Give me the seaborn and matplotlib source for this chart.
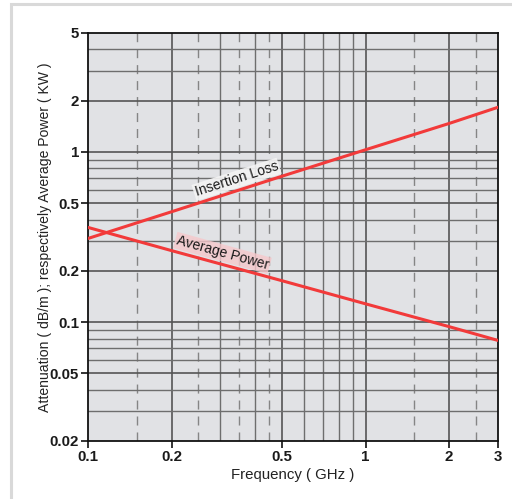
import numpy as np
import pandas as pd
import seaborn as sns
import matplotlib.pyplot as plt
from matplotlib.patches import Rectangle
from matplotlib.ticker import FixedLocator, FixedFormatter, NullLocator

# values (log-log straight lines)
freq_ghz = [0.1, 0.2, 0.5, 1.0, 2.0, 3.0]
insertion_loss = [0.31, 0.445, 0.72, 1.03, 1.47, 1.83]
average_power = [0.36, 0.263, 0.175, 0.128, 0.094, 0.078]

x_ticks = [0.1, 0.2, 0.5, 1, 2, 3]
x_tick_labels = ['0.1', '0.2', '0.5', '1', '2', '3']
y_ticks = [0.02, 0.05, 0.1, 0.2, 0.5, 1, 2, 5]
y_tick_labels = ['0.02', '0.05', '0.1', '0.2', '0.5', '1', '2', '5']

# grid layout of the chart paper
v_major = [0.2, 0.5, 1, 2]
v_minor = [0.3, 0.4, 0.6, 0.7, 0.8, 0.9]
v_dashed = [0.15, 0.25, 0.35, 0.45, 1.5, 2.5]
h_major = [0.05, 0.1, 0.2, 0.5, 1, 2]
h_minor = [0.03, 0.04, 0.06, 0.07, 0.08, 0.09, 0.3, 0.4, 0.6, 0.7, 0.8, 0.9, 3, 4]

df = pd.DataFrame({
    'freq': freq_ghz * 2,
    'value': insertion_loss + average_power,
    'curve': ['Insertion Loss'] * len(freq_ghz) + ['Average Power'] * len(freq_ghz),
})

sns.set_style('white', {'axes.facecolor': '#e1e2e5', 'axes.edgecolor': '#111111',
                        'xtick.bottom': True, 'ytick.left': True})
plt.rcParams['font.family'] = ['Liberation Sans', 'DejaVu Sans']

fig = plt.figure(figsize=(5.12, 4.99), dpi=100)
ax = fig.add_axes([88 / 512, 1 - 441 / 499, 410 / 512, 408 / 499])

# card frame around the figure
fig.patches.append(Rectangle((11 / 512, -0.05), 1.2, 1 - 4 / 499 + 0.05, transform=fig.transFigure,
                             fill=False, edgecolor='#d9d9d9', lw=2.2, zorder=0))

for v in v_major:
    ax.axvline(v, color='#555555', lw=1.2, zorder=1)
for v in v_minor:
    ax.axvline(v, color='#6e6e6e', lw=1.0, zorder=1)
for v in v_dashed:
    ax.axvline(v, color='#858585', lw=1.0, dashes=(6.5, 5), zorder=1)
for h in h_major:
    ax.axhline(h, color='#555555', lw=1.2, zorder=1)
for h in h_minor:
    ax.axhline(h, color='#6e6e6e', lw=1.0, zorder=1)

sns.lineplot(data=df, x='freq', y='value', hue='curve', palette=['#f23a3a', '#f23a3a'],
             lw=2.2, legend=False, ax=ax, zorder=3)

ax.set_xscale('log')
ax.set_yscale('log')
ax.set_xlim(0.1, 3)
ax.set_ylim(0.02, 5)

ax.xaxis.set_major_locator(FixedLocator(x_ticks))
ax.xaxis.set_major_formatter(FixedFormatter(x_tick_labels))
ax.xaxis.set_minor_locator(NullLocator())
ax.yaxis.set_major_locator(FixedLocator(y_ticks))
ax.yaxis.set_major_formatter(FixedFormatter(y_tick_labels))
ax.yaxis.set_minor_locator(NullLocator())
ax.tick_params(axis='both', which='major', direction='out', length=5, width=1.2,
               labelsize=10.8, color='#111111', pad=1.5, bottom=True, left=True)
for lbl in ax.get_xticklabels() + ax.get_yticklabels():
    lbl.set_fontweight('bold')
    lbl.set_color('#1a1a1a')
for s in ax.spines.values():
    s.set_linewidth(1.3)

ax.set_xlabel('Frequency ( GHz )', fontsize=10.8, color='#222222', labelpad=3)
ax.set_ylabel('Attenuation ( dB/m ); respectively Average Power ( KW )', fontsize=10.1,
              color='#222222', labelpad=-2)

ax.text(0.343, 0.69, 'Insertion Loss', rotation=17.8, ha='center', va='center', fontsize=10,
        color='#1a1a1a', zorder=4, rotation_mode='anchor',
        bbox=dict(boxstyle='square,pad=0.1', fc='#f4f4f4', ec='none', alpha=0.9))
ax.text(0.305, 0.255, 'Average Power', rotation=-15.4, ha='center', va='center', fontsize=10,
        color='#1a1a1a', zorder=4, rotation_mode='anchor',
        bbox=dict(boxstyle='square,pad=0.1', fc='#f6c8cb', ec='none', alpha=0.8))

fig.savefig('out.png', dpi=100)
